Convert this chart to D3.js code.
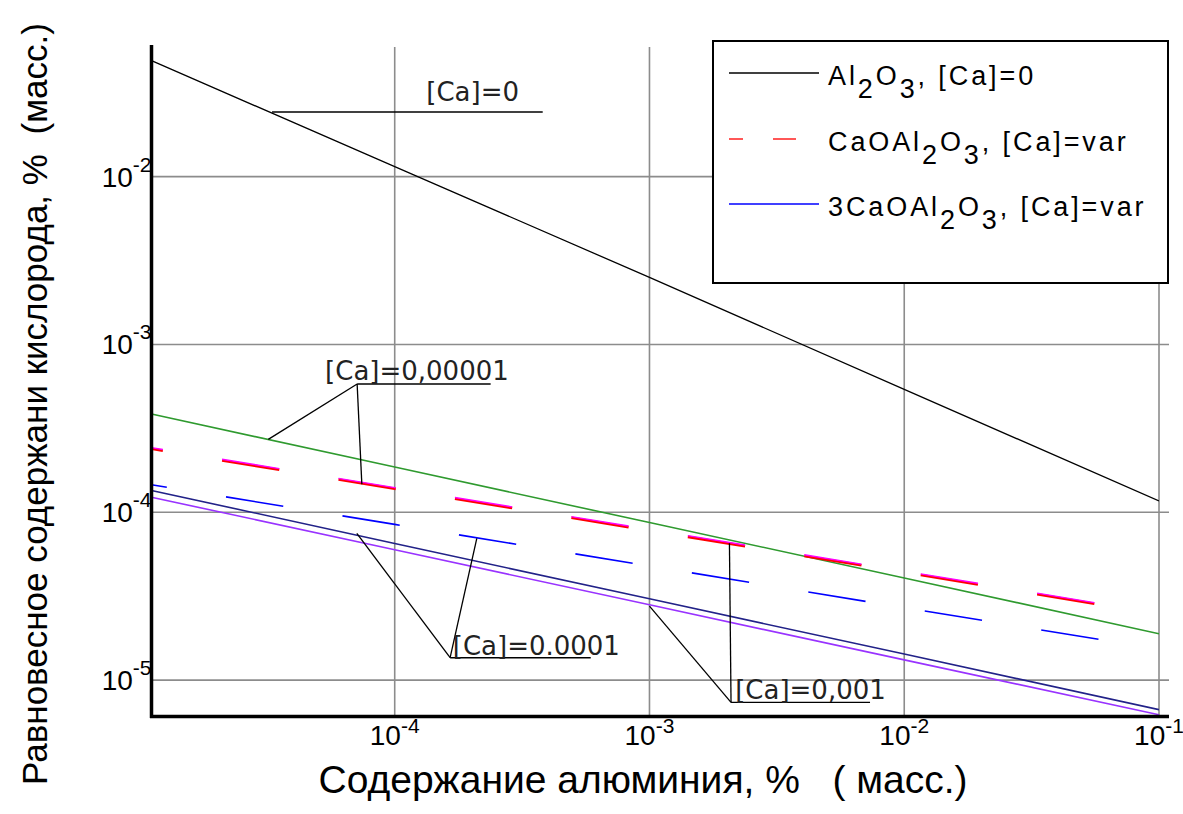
<!DOCTYPE html>
<html>
<head>
<meta charset="utf-8">
<script src="https://cdn.jsdelivr.net/npm/d3@7/dist/d3.min.js"></script>
<style>
    body { margin: 0; background: #fff; }
    svg text { font-family: "Liberation Sans", Arial, sans-serif; fill: #000; }
    .note { font-family: "DejaVu Sans", Tahoma, sans-serif; font-size: 26px; fill: #222; }
</style>
</head>
<body>
<div id="oxygen-chart"></div>
<script>
// aluminium content, % (mass) - points at each decade
var aluminium = [1.11e-5, 1e-4, 1e-3, 1e-2, 1e-1];
var aluminiumCaO = [1.11e-5, 1e-4, 1e-3, 1e-2, 0.0625];
var aluminium3CaO = [1.11e-5, 1e-4, 1e-3, 1e-2, 0.0671];

// equilibrium oxygen content, % (mass)
var oxygenAl2O3 = [0.0491, 0.01148, 2.51e-3, 5.4e-4, 1.17e-4];
var oxygenGreen = [3.85e-4, 1.86e-4, 8.69e-5, 4.06e-5, 1.89e-5];
var oxygenCaO = [2.39e-4, 1.38e-4, 7.78e-5, 4.39e-5, 2.77e-5];
var oxygen3CaO = [1.46e-4, 8.47e-5, 4.79e-5, 2.70e-5, 1.69e-5];
var oxygenNavy = [1.35e-4, 6.52e-5, 3.05e-5, 1.43e-5, 6.67e-6];
var oxygenViolet = [1.23e-4, 5.98e-5, 2.81e-5, 1.32e-5, 6.22e-6];

// ticks
var xTicks = [1e-4, 1e-3, 1e-2, 1e-1];
var xTickExp = ["-4", "-3", "-2", "-1"];
var yTicks = [1e-2, 1e-3, 1e-4, 1e-5];
var yTickExp = ["-2", "-3", "-4", "-5"];

// legend: [main text pieces, subscripts alternate]
var legendLabels = [
    ["Al", "2", "O", "3", ", [Ca]=0"],
    ["CaOAl", "2", "O", "3", ", [Ca]=var"],
    ["3CaOAl", "2", "O", "3", ", [Ca]=var"]
];

// callouts in data units: text position, underline (from, to, level), pointer ends
var callouts = [
    {label: "[Ca]=0", at: [1.33e-4, 0.0282], under: [3.30e-5, 3.81e-4, 0.0243], to: []},
    {label: "[Ca]=0,00001", at: [5.33e-5, 6.14e-4], under: [7.12e-5, 2.38e-4, 5.82e-4],
        to: [[3.19e-5, 2.72e-4], [7.43e-5, 1.47e-4]]},
    {label: "[Ca]=0.0001", at: [1.69e-4, 1.41e-5], under: [1.65e-4, 5.88e-4, 1.36e-5],
        to: [[7.10e-5, 7.50e-5], [2.10e-4, 7.0e-5]]},
    {label: "[Ca]=0,001", at: [2.17e-3, 7.72e-6], under: [2.09e-3, 7.34e-3, 7.37e-6],
        to: [[2.06e-3, 6.54e-5], [1e-3, 2.76e-5]]}
];

function OxygenChart() {
    var self = this;
    self.init();
}

OxygenChart.prototype.init = function () {
    var self = this;
    self.width = 1183;
    self.height = 814;
    self.plot = {left: 151.5, right: 1159, top: 45, bottom: 716.5};

    self.svg = d3.select("#oxygen-chart").append("svg")
        .attr("width", self.width)
        .attr("height", self.height);

    self.x = d3.scaleLog()
        .domain([1.11e-5, 0.1])
        .range([self.plot.left, self.plot.right]);
    self.y = d3.scaleLog()
        .domain([6.07e-6, 0.0609])
        .range([self.plot.bottom, self.plot.top]);

    self.update();
};

OxygenChart.prototype.update = function () {
    var self = this;
    var x = self.x, y = self.y, p = self.plot;
    var svg = self.svg;

    // grid
    svg.append("g").selectAll("line").data(xTicks).enter().append("line")
        .attr("x1", function (d) { return x(d); })
        .attr("x2", function (d) { return x(d); })
        .attr("y1", p.top + 2)
        .attr("y2", p.bottom)
        .attr("stroke", "#8c8c8c")
        .attr("stroke-width", 1.6);
    svg.append("g").selectAll("line").data(yTicks).enter().append("line")
        .attr("x1", p.left)
        .attr("x2", p.right + 10)
        .attr("y1", function (d) { return y(d); })
        .attr("y2", function (d) { return y(d); })
        .attr("stroke", "#8c8c8c")
        .attr("stroke-width", 1.6);

    // clip for the curves
    svg.append("clipPath").attr("id", "plot-clip").append("rect")
        .attr("x", p.left).attr("y", p.top)
        .attr("width", p.right - p.left).attr("height", p.bottom - p.top);

    var series = [
        {xs: aluminium, ys: oxygenAl2O3, color: "#000", width: 1.3},
        {xs: aluminium, ys: oxygenGreen, color: "#2f9a2f", width: 1.6},
        {xs: aluminiumCaO, ys: oxygenCaO, color: "#ff0000", width: 2.6, dash: "58,60", offset: 46.5},
        {xs: aluminiumCaO, ys: oxygenCaO, color: "#ff00ff", width: 1.4, dash: "58,60", offset: 46.5, shift: -1.2},
        {xs: aluminium3CaO, ys: oxygen3CaO, color: "#0000ff", width: 1.6, dash: "58,60", offset: 42.5},
        {xs: aluminium, ys: oxygenNavy, color: "#222288", width: 1.6},
        {xs: aluminium, ys: oxygenViolet, color: "#9933ff", width: 1.6}
    ];

    var line = d3.line()
        .x(function (d) { return x(d[0]); })
        .y(function (d) { return y(d[1]); });

    var curves = svg.append("g").attr("clip-path", "url(#plot-clip)");
    series.forEach(function (s) {
        curves.append("path")
            .datum(d3.zip(s.xs, s.ys))
            .attr("d", line)
            .attr("fill", "none")
            .attr("stroke", s.color)
            .attr("stroke-width", s.width)
            .attr("stroke-dasharray", s.dash || null)
            .attr("stroke-dashoffset", s.offset || null)
            .attr("transform", s.shift ? "translate(0," + s.shift + ")" : null);
    });

    // callouts
    var notes = svg.append("g");
    callouts.forEach(function (c) {
        var vx = x(c.under[0]), vy = y(c.under[2]);
        notes.append("line")
            .attr("x1", vx).attr("x2", x(c.under[1]))
            .attr("y1", vy).attr("y2", vy)
            .attr("stroke", "#000").attr("stroke-width", 1.4);
        c.to.forEach(function (t) {
            notes.append("line")
                .attr("x1", vx).attr("y1", vy)
                .attr("x2", x(t[0])).attr("y2", y(t[1]))
                .attr("stroke", "#000").attr("stroke-width", 1.3);
        });
        notes.append("text")
            .attr("class", "note")
            .attr("x", x(c.at[0]))
            .attr("y", y(c.at[1]))
            .text(c.label);
    });

    // axes lines
    svg.append("line")
        .attr("x1", p.left).attr("x2", p.left)
        .attr("y1", p.top).attr("y2", p.bottom + 1.5)
        .attr("stroke", "#000").attr("stroke-width", 3.5);
    svg.append("line")
        .attr("x1", p.left - 1.5).attr("x2", p.right + 10)
        .attr("y1", p.bottom).attr("y2", p.bottom)
        .attr("stroke", "#000").attr("stroke-width", 3.5);

    // tick labels
    var xl = svg.append("g").selectAll("text").data(xTicks).enter().append("text")
        .attr("x", function (d) { return x(d); })
        .attr("y", p.bottom + 28)
        .attr("text-anchor", "middle")
        .attr("font-size", "28px");
    xl.append("tspan").text("10");
    xl.append("tspan")
        .attr("dy", -12).attr("dx", 0)
        .attr("font-size", "21px")
        .text(function (d, i) { return xTickExp[i]; });

    var yl = svg.append("g").selectAll("text").data(yTicks).enter().append("text")
        .attr("x", p.left)
        .attr("y", function (d) { return y(d) + 10; })
        .attr("text-anchor", "end")
        .attr("font-size", "28px");
    yl.append("tspan").text("10");
    yl.append("tspan")
        .attr("dy", -15).attr("dx", 0)
        .attr("font-size", "21px")
        .text(function (d, i) { return yTickExp[i]; });

    // axis titles
    svg.append("text")
        .attr("x", 643)
        .attr("y", 793)
        .attr("text-anchor", "middle")
        .attr("font-size", "39px")
        .style("white-space", "pre")
        .text("Содержание алюминия, %   ( масс.)");
    svg.append("text")
        .attr("transform", "translate(47,404) rotate(-90)")
        .attr("text-anchor", "middle")
        .attr("font-size", "35px")
        .style("white-space", "pre")
        .text("Равновесное содержани кислорода, %  (масс.)");

    // legend
    var legend = svg.append("g");
    legend.append("rect")
        .attr("x", 713).attr("y", 41)
        .attr("width", 455).attr("height", 242)
        .attr("fill", "#fff")
        .attr("stroke", "#000").attr("stroke-width", 2);
    var legendStyle = [
        {color: "#000", dash: null, rowY: 73},
        {color: "#ff2020", dash: "14,30,23,100", rowY: 139},
        {color: "#0000ff", dash: null, rowY: 204}
    ];
    legendStyle.forEach(function (s, i) {
        legend.append("line")
            .attr("x1", 729).attr("x2", 819)
            .attr("y1", s.rowY).attr("y2", s.rowY)
            .attr("stroke", s.color)
            .attr("stroke-width", 1.5)
            .attr("stroke-dasharray", s.dash);
        var t = legend.append("text")
            .attr("x", 828)
            .attr("y", s.rowY + 12)
            .attr("font-size", "27px")
            .attr("letter-spacing", "2.9px");
        legendLabels[i].forEach(function (piece, k) {
            t.append("tspan")
                .attr("dy", k === 0 ? 0 : (k % 2 === 1 ? 13 : -13))
                .text(piece);
        });
    });
};

new OxygenChart();
</script>
</body>
</html>
